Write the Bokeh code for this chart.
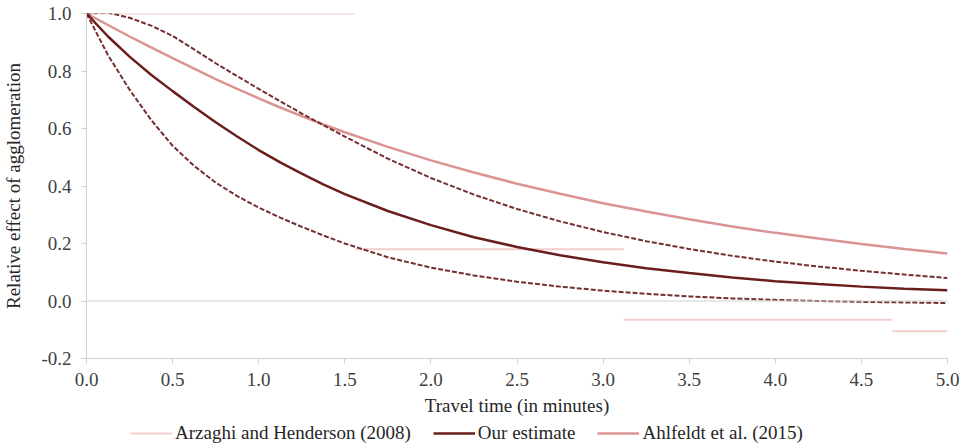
from bokeh.plotting import figure
from bokeh.layouts import column
from bokeh.models import Span, Legend, LegendItem, FixedTicker, PrintfTickFormatter, Range1d
from bokeh.embed import file_html
from bokeh.resources import INLINE

# Travel time (minutes)
times = [0.0, 0.125, 0.25, 0.375, 0.5, 0.625, 0.75, 0.875, 1.0, 1.125, 1.25, 1.375, 1.5,
         1.75, 2.0, 2.25, 2.5, 2.75, 3.0, 3.25, 3.5, 3.75, 4.0, 4.25, 4.5, 4.75, 5.0]

our_estimate = [1.0, 0.92, 0.85, 0.787, 0.73, 0.675, 0.622, 0.572, 0.525, 0.482, 0.443,
                0.406, 0.372, 0.313, 0.264, 0.222, 0.188, 0.159, 0.135, 0.114, 0.097,
                0.082, 0.069, 0.059, 0.05, 0.043, 0.037]
upper_bound = [1.0, 1.003, 0.985, 0.958, 0.922, 0.875, 0.827, 0.782, 0.738, 0.695, 0.652,
               0.612, 0.572, 0.495, 0.428, 0.370, 0.320, 0.277, 0.240, 0.208, 0.181,
               0.157, 0.137, 0.120, 0.105, 0.092, 0.080]
lower_bound = [1.0, 0.855, 0.735, 0.63, 0.54, 0.47, 0.412, 0.365, 0.325, 0.29, 0.258,
               0.228, 0.2, 0.152, 0.116, 0.089, 0.067, 0.05, 0.036, 0.025, 0.016,
               0.009, 0.004, 0.0, -0.003, -0.005, -0.007]
ahlfeldt = [1.0, 0.96, 0.92, 0.882, 0.845, 0.808, 0.772, 0.738, 0.705, 0.673, 0.643,
            0.614, 0.587, 0.536, 0.489, 0.447, 0.408, 0.373, 0.340, 0.311, 0.284,
            0.259, 0.237, 0.217, 0.198, 0.181, 0.165]

# Arzaghi and Henderson (2008) step function
arz_start = [0.0, 1.56, 3.12, 4.68]
arz_end = [1.56, 3.12, 4.68, 5.0]
arz_value = [1.0, 0.18, -0.065, -0.105]

series_names = ["Arzaghi and Henderson (2008)", "Our estimate", "Ahlfeldt et al. (2015)"]

x_ticks = [0.0, 0.5, 1.0, 1.5, 2.0, 2.5, 3.0, 3.5, 4.0, 4.5, 5.0]
y_ticks = [-0.2, 0.0, 0.2, 0.4, 0.6, 0.8, 1.0]

FONT = "Liberation Serif"
FS = "19px"
DARK = "#6B1E1E"
DASH = "#743030"
PINK = "#DA9493"
PALE = "#F4CDCD"
AXIS = "#D0D0D0"
W = 962

p = figure(width=W, height=419, output_backend="svg", toolbar_location=None,
           x_range=Range1d(0, 5), y_range=Range1d(-0.2, 1.0),
           min_border_left=84, min_border_right=15, min_border_top=13,
           min_border_bottom=61)
p.outline_line_color = None
p.xgrid.grid_line_color = None
p.ygrid.grid_line_color = None

zero = Span(location=0, dimension="width", line_color=AXIS, line_width=1)
p.add_layout(zero)

p.segment(x0=arz_start, y0=arz_value, x1=arz_end, y1=arz_value,
          line_color=PALE, line_width=2)
p.line(times, ahlfeldt, line_color=PINK, line_width=2.5)
p.line(times, upper_bound, line_color=DASH, line_width=2, line_dash="5 2")
p.line(times, lower_bound, line_color=DASH, line_width=2, line_dash="5 2")
p.line(times, our_estimate, line_color=DARK, line_width=2.5)

for ax in (p.xaxis[0], p.yaxis[0]):
    ax.axis_line_color = AXIS
    ax.major_tick_line_color = AXIS
    ax.minor_tick_line_color = None
    ax.major_tick_in = 0
    ax.major_tick_out = 5
    ax.major_label_text_font = FONT
    ax.major_label_text_font_size = FS
    ax.major_label_text_color = "#404040"
    ax.axis_label_text_font = FONT
    ax.axis_label_text_font_size = FS
    ax.axis_label_text_font_style = "normal"
    ax.axis_label_text_color = "#262626"

p.xaxis.ticker = FixedTicker(ticks=x_ticks)
p.yaxis.ticker = FixedTicker(ticks=y_ticks)
p.xaxis.formatter = PrintfTickFormatter(format="%.1f")
p.yaxis.formatter = PrintfTickFormatter(format="%.1f")
p.xaxis.axis_label = "Travel time (in minutes)"
p.yaxis.axis_label = "Relative effect of agglomeration"
p.xaxis.major_label_standoff = 9
p.xaxis.axis_label_standoff = 6
p.yaxis.major_label_standoff = 10
p.yaxis.axis_label_standoff = 14

# Legend strip below the chart (single-point keys, nothing drawn in the strip itself)
lg = figure(width=W, height=25, output_backend="svg", toolbar_location=None,
            x_range=Range1d(10, 11), y_range=Range1d(10, 11),
            x_axis_location=None, y_axis_location=None,
            min_border_left=0, min_border_right=0, min_border_top=0, min_border_bottom=0)
lg.outline_line_color = None
lg.xgrid.grid_line_color = None
lg.ygrid.grid_line_color = None
k_arz = lg.line(x=arz_start[:1], y=arz_value[:1], line_color=PALE, line_width=2)
k_our = lg.line(x=times[:1], y=our_estimate[:1], line_color=DARK, line_width=2.5)
k_ahl = lg.line(x=times[:1], y=ahlfeldt[:1], line_color=PINK, line_width=2.5)

legend = Legend(items=[
    LegendItem(label=series_names[0], renderers=[k_arz]),
    LegendItem(label=series_names[1], renderers=[k_our]),
    LegendItem(label=series_names[2], renderers=[k_ahl]),
], orientation="horizontal", location=(44, 0))
legend.label_text_font = FONT
legend.label_text_font_size = FS
legend.label_text_color = "#262626"
legend.glyph_width = 42
legend.glyph_height = 20
legend.label_standoff = 3
legend.spacing = 22
legend.padding = 0
legend.margin = 0
legend.border_line_color = None
legend.background_fill_alpha = 0
lg.add_layout(legend, "center")

open("out.html", "w").write(file_html(column(p, lg), INLINE))
